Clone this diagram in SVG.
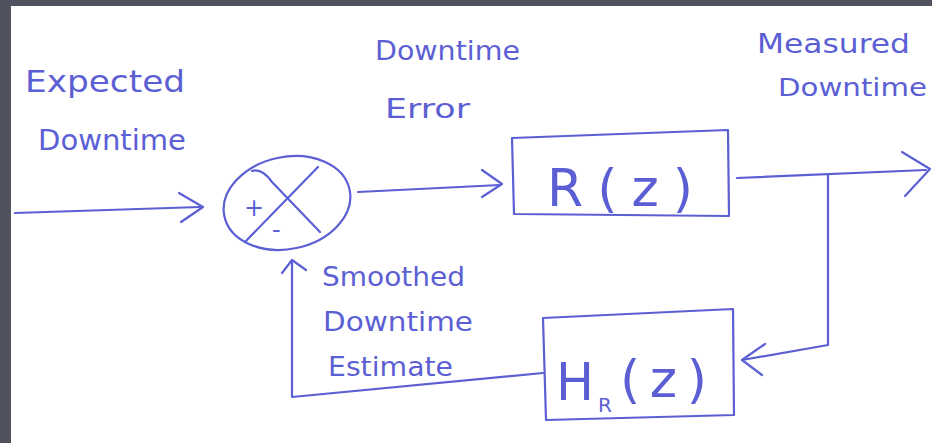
<svg xmlns="http://www.w3.org/2000/svg" width="932" height="443" viewBox="0 0 932 443">
<style>
.ink{fill:none;stroke:#5c5fd4;stroke-width:2.2;stroke-linecap:round;stroke-linejoin:round}
.t{font-family:"DejaVu Sans",sans-serif;fill:#5c5fd4;font-weight:normal}
</style>
<rect width="932" height="443" fill="#50535f"/>
<rect x="11" y="6" width="921" height="437" fill="#ffffff"/>

<g id="label-expected">
<text class="t" x="25" y="92" font-size="30" textLength="160" lengthAdjust="spacingAndGlyphs">Expected</text>
<text class="t" x="38" y="150" font-size="28" textLength="148" lengthAdjust="spacingAndGlyphs">Downtime</text>
</g>
<g id="label-error">
<text class="t" x="375" y="60" font-size="26" textLength="145" lengthAdjust="spacingAndGlyphs">Downtime</text>
<text class="t" x="385" y="118" font-size="26" textLength="85" lengthAdjust="spacingAndGlyphs">Error</text>
</g>
<g id="label-measured">
<text class="t" x="757" y="53" font-size="26" textLength="153" lengthAdjust="spacingAndGlyphs">Measured</text>
<text class="t" x="778" y="96" font-size="25" textLength="149" lengthAdjust="spacingAndGlyphs">Downtime</text>
</g>
<g id="label-smoothed">
<text class="t" x="322" y="286" font-size="26" textLength="143" lengthAdjust="spacingAndGlyphs">Smoothed</text>
<text class="t" x="323" y="331" font-size="26" textLength="150" lengthAdjust="spacingAndGlyphs">Downtime</text>
<text class="t" x="328" y="376" font-size="26" textLength="125" lengthAdjust="spacingAndGlyphs">Estimate</text>
</g>

<g id="sum">
<ellipse class="ink" cx="287" cy="203" rx="64" ry="46" transform="rotate(-12 287 203)"/>
<path class="ink" d="M252,171 Q262,168 272,182 L320,232"/>
<path class="ink" d="M318,167 L245,242"/>
<text class="t" x="244" y="216" font-size="24">+</text>
<text class="t" x="272" y="238" font-size="24">-</text>
</g>

<g id="R">
<path class="ink" d="M512,138 L728,130 L729,216 L514,214 Z"/>
<text class="t" x="547" y="206" font-size="52" textLength="146" lengthAdjust="spacing">R(z)</text>
</g>

<g id="H">
<path class="ink" d="M543,318 L733,309 L734,415 L546,420 Z"/>
<text class="t" x="556" y="400" font-size="52" textLength="38" lengthAdjust="spacingAndGlyphs">H</text>
<text class="t" x="598" y="412" font-size="20">R</text>
<text class="t" x="620" y="397" font-size="52" textLength="87" lengthAdjust="spacing">(z)</text>
</g>

<g id="connectors">
<path class="ink" d="M15,213 L200,207"/>
<path class="ink" d="M179,193 L203,207 L181,222"/>
<path class="ink" d="M358,192 L500,185"/>
<path class="ink" d="M482,170 L502,184 L482,197"/>
<path class="ink" d="M737,178 L926,170"/>
<path class="ink" d="M902,152 L930,169 L905,196"/>
<path class="ink" d="M828,174 L828,345 L742,360"/>
<path class="ink" d="M765,344 L742,360 L762,375"/>
<path class="ink" d="M543,373 L292,397 L292,261"/>
<path class="ink" d="M282,273 L292,260 L306,270"/>
</g>
</svg>
